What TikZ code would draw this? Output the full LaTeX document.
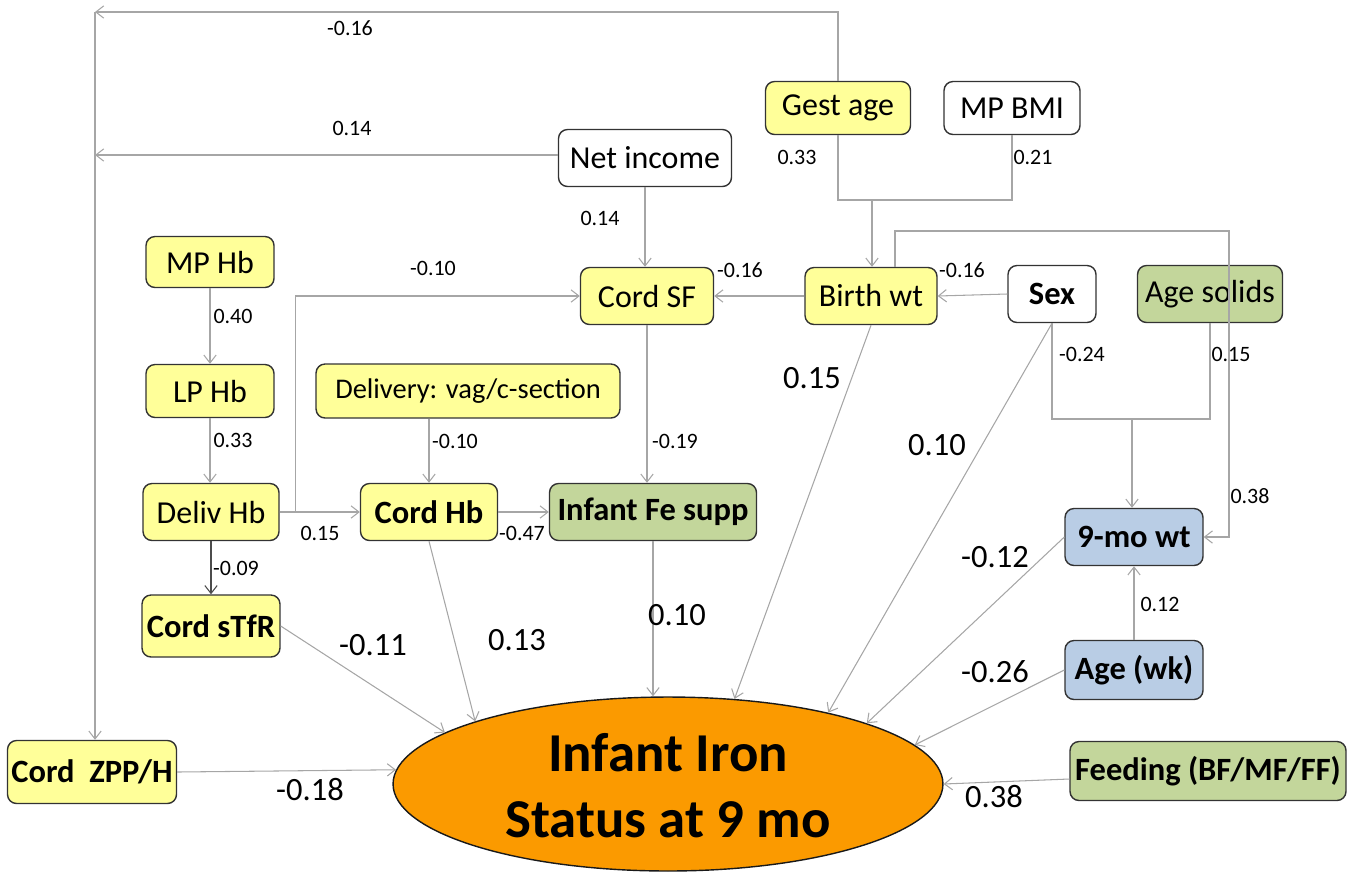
\documentclass[tikz,border=0pt]{standalone}
\usepackage{fontspec}
\setmainfont{Carlito}
\usetikzlibrary{shapes.geometric,arrows.meta}
\definecolor{boxyellow}{HTML}{FFFF99}
\definecolor{boxgreen}{HTML}{C3D69B}
\definecolor{boxblue}{HTML}{B9CDE5}
\definecolor{ironorange}{HTML}{FB9A00}
\definecolor{linkgray}{HTML}{A6A6A6}
\begin{document}
\begin{tikzpicture}[x=0.02cm, y=-0.02cm,
factor/.style={
        draw=black!80,
        line width=0.8pt,
        rounded corners=0.18cm,
        fill=boxyellow,
        minimum height=1.14cm,
        inner sep=1pt,
        align=center,
        font=\fontsize{18.2}{20}\selectfont,
    },
   plainbox/.style={fill=white},
   feedbox/.style={fill=boxgreen},
   infantbox/.style={fill=boxblue},
   strong/.style={font=\fontsize{18.5}{20}\selectfont\bfseries},
   outcome/.style={
   draw=black!90,
   ellipse,
   fill=ironorange,
   line width=0.8pt,
   minimum width=11cm,
   minimum height=3.48cm,
   inner sep=0pt,
   align=center,
   font=\fontsize{31.2}{37.4}\selectfont\bfseries,
   },
   link/.style={draw=linkgray, line width=0.6pt, -{Straight Barb[length=4.5pt,width=7pt]}},
   joint/.style={draw=linkgray, line width=0.6pt},
   coef/.style={font=\fontsize{12.5}{14}\selectfont, inner sep=0pt},
   bigcoef/.style={font=\fontsize{18.5}{20}\selectfont, inner sep=0pt},
 ]
\useasboundingbox (0,0) rectangle (1358,873);

% boxes
\node[factor, minimum width=2.9cm, minimum height=1.06cm] (gestage) at (838,108) {Gest age};
\node[factor, plainbox, minimum width=2.72cm, minimum height=1.06cm] (mpbmi) at (1012,108) {MP BMI};
\node[factor, plainbox, minimum width=3.46cm] (netinc) at (645,158) {Net income};
\node[factor, minimum width=2.56cm, minimum height=1.02cm] (mphb) at (210,262) {MP Hb};
\node[factor, minimum width=2.66cm] (cordsf) at (647,296) {Cord SF};
\node[factor, minimum width=2.64cm] (birthwt) at (871,296) {Birth wt};
\node[factor, plainbox, strong, minimum width=1.76cm] (sex) at (1052,294) {Sex};
\node[factor, feedbox, minimum width=2.9cm] (agesolids) at (1210,294) {Age solids};
\node[factor, minimum width=2.56cm, minimum height=1.06cm] (lphb) at (210,391) {LP Hb};
\node[factor, minimum width=6.08cm, minimum height=1.08cm, font=\fontsize{16.2}{18}\selectfont] (delivery) at (468,391) {Delivery: vag/c-section};
\node[factor, minimum width=2.72cm] (delivhb) at (211,512) {Deliv Hb};
\node[factor, strong, minimum width=2.74cm] (cordhb) at (429,512) {Cord Hb};
\node[factor, feedbox, strong, minimum width=4.14cm] (fesupp) at (653,512) {Infant Fe supp};
\node[factor, infantbox, strong, minimum width=2.76cm] (ninemo) at (1134,537) {9-mo wt};
\node[factor, strong, minimum width=2.76cm, minimum height=1.24cm] (stfr) at (211,626) {Cord sTfR};
\node[factor, infantbox, strong, minimum width=2.76cm, minimum height=1.18cm] (agewk) at (1134,670) {Age (wk)};
\node[factor, feedbox, strong, minimum width=5.52cm, minimum height=1.18cm] (feeding) at (1208,771) {Feeding (BF/MF/FF)};
\node[factor, strong, minimum width=3.38cm, minimum height=1.26cm] (zpp) at (92,772) {Cord\ \ ZPP/H};

\node[outcome] (iron) at (668,784) {\rule{0pt}{0.84cm}Infant Iron\\Status at 9 mo};

% paths between boxes
\coordinate (topleft) at (95,12);
\coordinate (incleft) at (95,155);
\coordinate (bwjoin) at (872,200);
\coordinate (wtloop) at (1229,231);
\coordinate (nmjoin) at (1132,419);

\draw[link] (gestage.north) |- (topleft);
\draw[link] (topleft) -- (topleft |- zpp.north);
\draw[link] (netinc.west |- incleft) -- (incleft);
\draw[joint] (gestage.south) |- (bwjoin) -| (mpbmi.south);
\draw[link] (bwjoin) -- (bwjoin |- birthwt.north);
\draw[link] (netinc.south) -- (netinc.south |- cordsf.north);
\draw[link] (mphb.south) -- (lphb.north);
\draw[link] (lphb.south) -- (lphb.south |- delivhb.north);
\draw[link] (delivhb.east) -- (cordhb.west);
\draw[link] (delivhb.east) ++(16,0) |- (cordsf.west);
\draw[link] (delivery.south -| cordhb.north) -- (cordhb.north);
\draw[link] (cordhb.east) -- (fesupp.west);
\draw[link] (cordsf.south) -- (cordsf.south |- fesupp.north);
\draw[link] (birthwt.west) -- (cordsf.east);
\draw[link] (sex.west) -- (birthwt.east);
\draw[link] (birthwt.north) ++(24,0) |- (wtloop) |- (ninemo.east);
\draw[joint] (sex.south) |- (nmjoin) -| (agesolids.south);
\draw[link] (nmjoin) -- (nmjoin |- ninemo.north);
\draw[link] (agewk.north) -- (ninemo.south);
\draw[link, draw=black!70] (delivhb.south) -- (stfr.north);

% paths into the outcome
\draw[link] (stfr.east) -- (iron.167.8);
\draw[link] (cordhb.south) -- (iron.162.6);
\draw[link] (fesupp.south) -- (fesupp.south |- iron.north);
\draw[link] (birthwt.south) -- (iron.52.2);
\draw[link] (sex.south) -- (iron.24.9);
\draw[link] (ninemo.west) -- (iron.17.4);
\draw[link] (agewk.west) -- (iron.9.3);
\draw[link] (feeding.west) ++(0,8) -- (iron.east);
\draw[link] (zpp.east) -- (iron.177.9);

% coefficients
\node[coef] (c1) at (350,28) {-0.16};
\node[coef] (c2) at (352,128) {0.14};
\node[coef] (c3) at (797,157) {0.33};
\node[coef] (c4) at (1033,157) {0.21};
\node[coef] (c5) at (600,218) {0.14};
\node[coef] (c6) at (433,268) {-0.10};
\node[coef] (c7) at (740,270) {-0.16};
\node[coef] (c8) at (962,270) {-0.16};
\node[coef] (c9) at (233,316) {0.40};
\node[coef] (c10) at (1082,354) {-0.24};
\node[coef] (c11) at (1231,354) {0.15};
\node[coef] (c12) at (233,440) {0.33};
\node[coef] (c13) at (455,441) {-0.10};
\node[coef] (c14) at (675,441) {-0.19};
\node[coef] (c15) at (1250,496) {0.38};
\node[coef] (c16) at (320,533) {0.15};
\node[coef] (c17) at (522,533) {-0.47};
\node[coef] (c18) at (236,568) {-0.09};
\node[coef] (c19) at (1160,604) {0.12};
\node[bigcoef] (b1) at (812,378) {0.15};
\node[bigcoef] (b2) at (937,445) {0.10};
\node[bigcoef] (b3) at (995,557) {-0.12};
\node[bigcoef] (b4) at (373,645) {-0.11};
\node[bigcoef] (b5) at (517,640) {0.13};
\node[bigcoef] (b6) at (677,615) {0.10};
\node[bigcoef] (b7) at (995,672) {-0.26};
\node[bigcoef] (b8) at (310,790) {-0.18};
\node[bigcoef] (b9) at (994,797) {0.38};
\end{tikzpicture}
\end{document}
